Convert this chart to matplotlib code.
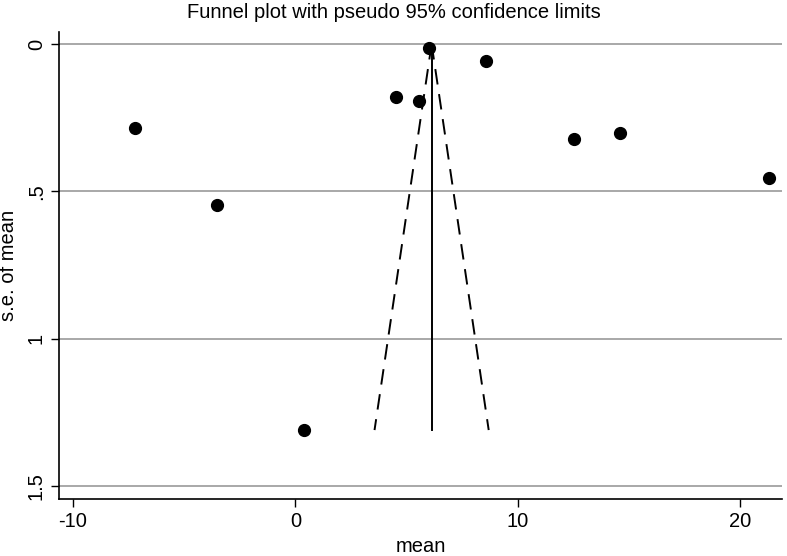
import matplotlib
matplotlib.use("Agg")
import matplotlib.pyplot as plt
import numpy as np

plt.rcParams['font.family'] = ['Liberation Sans', 'DejaVu Sans']
plt.rcParams['axes.unicode_minus'] = False

# study estimates and their standard errors
means = [-7.21, -3.52, 0.39, 4.53, 5.56, 6.01, 8.58, 12.54, 14.61, 21.3]
ses = [0.285, 0.546, 1.31, 0.18, 0.193, 0.014, 0.058, 0.322, 0.302, 0.455]

pooled = 6.13
se_max = 1.31

xticks = [-10, 0, 10, 20]
yticks = [0, 0.5, 1, 1.5]
ytick_labels = ['0', '.5', '1', '1.5']

fig = plt.figure(figsize=(7.87, 5.56), dpi=100)
ax = fig.add_axes([59 / 787, 1 - 499 / 556, (782 - 59) / 787, (499 - 32) / 556])

for yv in yticks:
    ax.axhline(yv, color='#9a9a9a', lw=1.2, zorder=1)

se_line = np.array([0, se_max])
ax.plot([pooled, pooled], se_line, color='black', lw=1.4, zorder=2)
ax.plot(pooled - 1.96 * se_line, se_line, color='black', lw=1.4, ls=(0, (8, 5)), zorder=2)
ax.plot(pooled + 1.96 * se_line, se_line, color='black', lw=1.4, ls=(0, (8, 5)), zorder=2)

ax.plot(means, ses, 'o', color='black', ms=8.5, zorder=3)

ax.set_xlim(-10.63, 21.89)
ax.set_ylim(1.544, -0.041)
ax.set_xticks(xticks)
ax.set_yticks(yticks)
ax.set_yticklabels(ytick_labels, rotation=90, va='center')
ax.tick_params(labelsize=14.5, length=6, width=1, direction='out')

ax.spines['top'].set_visible(False)
ax.spines['right'].set_visible(False)
ax.spines['left'].set_linewidth(1.2)
ax.spines['bottom'].set_linewidth(1.2)

ax.set_xlabel('mean', fontsize=14.5, labelpad=4)
ax.set_ylabel('s.e. of mean', fontsize=14.5, labelpad=6)
fig.suptitle('Funnel plot with pseudo 95% confidence limits', fontsize=14.5, x=0.5, y=0.995, va='top')

fig.savefig('out.png', dpi=100)
